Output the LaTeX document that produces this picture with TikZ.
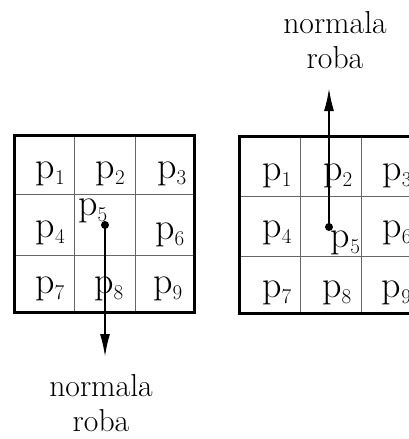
\documentclass[tikz,border=0pt]{standalone}
\usetikzlibrary{arrows.meta}
\newcommand\pidx[1]{p\raisebox{-6pt}{\fontsize{21}{21}\selectfont #1}}
\tikzset{
  lab/.style={font=\fontsize{38}{38}\selectfont, inner sep=0pt, anchor=base west},
  outer/.style={line width=3pt},
  inner/.style={line width=0.9pt, black!60},
  dotnode/.style={circle, fill=black, inner sep=0pt, minimum size=8pt},
  normal/.style={line width=2pt, -{Latex[length=23pt,width=10pt]}},
  captext/.style={font=\fontsize{31.7}{35}\selectfont, align=center, inner sep=0pt, anchor=north}
}
\begin{document}
\begin{tikzpicture}[x=1pt,y=-1pt]
\useasboundingbox (0,0) rectangle (409,439);
\clip (0,0) rectangle (409,439);
% left grid
\draw[inner] (74,135) -- (74,312) (135.3,135) -- (135.3,312)
             (14,194) -- (194,194) (14,255.3) -- (194,255.3);
\draw[outer] (14,135) rectangle (194,312);
% right grid
\draw[inner] (300.7,136) -- (300.7,313) (361.7,136) -- (361.7,313)
             (239.3,196) -- (430,196) (239.3,256.7) -- (430,256.7);
\draw[outer] (239.3,136) rectangle (422.7,313);
% left labels
\node[lab] (l1) at (35.5,178) {\pidx{1}};
\node[lab] (l2) at (95.5,178) {\pidx{2}};
\node[lab] (l3) at (157,178) {\pidx{3}};
\node[lab] (l4) at (35.5,237) {\pidx{4}};
\node[lab] (l5) at (78,215) {\pidx{5}};
\node[lab] (l6) at (155,239) {\pidx{6}};
\node[lab] (l7) at (35,293.5) {\pidx{7}};
\node[lab] (l8) at (94,293.5) {\pidx{8}};
\node[lab] (l9) at (153,293.5) {\pidx{9}};
% right labels
\node[lab] (r1) at (262.3,180) {\pidx{1}};
\node[lab] (r2) at (323,180) {\pidx{2}};
\node[lab] (r3) at (382.3,180) {\pidx{3}};
\node[lab] (r4) at (262.3,237) {\pidx{4}};
\node[lab] (r5) at (330.7,247) {\pidx{5}};
\node[lab] (r6) at (382.3,237) {\pidx{6}};
\node[lab] (r7) at (262,297) {\pidx{7}};
\node[lab] (r8) at (322,297) {\pidx{8}};
\node[lab] (r9) at (381.7,297) {\pidx{9}};
% normals
\node[dotnode] (d1) at (105,225) {};
\coordinate (t1) at (105,357);
\draw[normal] (d1.center) -- (t1);
\node[captext] (c1) at (101,374.7) {normala\\roba};
\node[dotnode] (d2) at (329,227) {};
\coordinate (t2) at (329,88);
\draw[normal] (d2.center) -- (t2);
\node[captext] (c2) at (335,11.3) {normala\\roba};
\end{tikzpicture}
\end{document}
